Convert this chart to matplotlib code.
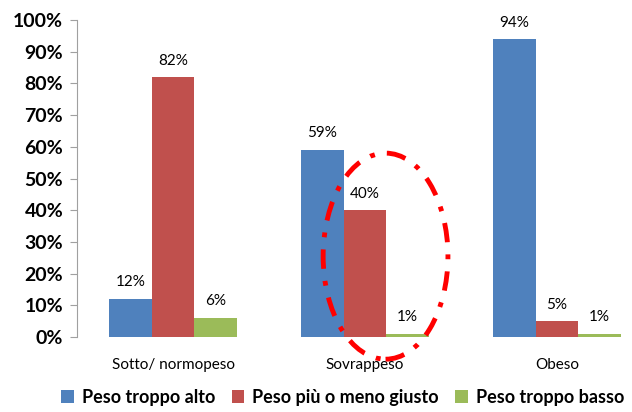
import matplotlib.pyplot as plt
import numpy as np
from matplotlib.patches import Ellipse

categorie = ["Sotto/ normopeso", "Sovrappeso", "Obeso"]
serie = ["Peso troppo alto", "Peso più o meno giusto", "Peso troppo basso"]
troppo_alto = [12, 59, 94]
giusto = [82, 40, 5]
troppo_basso = [6, 1, 1]
colori = ["#4F81BD", "#C0504D", "#9BBB59"]

plt.rcParams['font.family'] = ['Lato', 'DejaVu Sans']

fig = plt.figure(figsize=(6.32, 4.12), dpi=100)
# asse piu largo della figura: il grafico originale e' tagliato a destra
ax = fig.add_axes([77 / 632, 75 / 412, 576 / 632, 317 / 412])

x = np.arange(len(categorie))
w = 0.222
for i, (vals, col, nome) in enumerate(zip([troppo_alto, giusto, troppo_basso], colori, serie)):
    pos = x + (i - 1) * w
    ax.bar(pos, vals, width=w, color=col, label=nome)
    for p, v in zip(pos, vals):
        ax.text(p, v + 3, f"{v}%", ha='center', va='bottom', fontsize=11)

ax.set_xlim(-0.5, 2.5)
ax.set_ylim(0, 100)
ax.set_yticks(range(0, 101, 10))
ax.set_yticklabels([f"{t}%" for t in range(0, 101, 10)], fontsize=14, fontweight='bold')
ax.set_xticks(x)
ax.set_xticklabels(categorie, fontsize=11)
ax.tick_params(axis='x', length=0, pad=15)
ax.tick_params(axis='y', length=5, color='#A0A0A0', pad=5)
for s in ['top', 'right', 'bottom']:
    ax.spines[s].set_visible(False)
ax.spines['left'].set_color('#A0A0A0')

# ellisse rossa tratteggiata attorno a Sovrappeso
ell = Ellipse((x[1] + 0.107, 25.5), 0.65, 65, fill=False, edgecolor='#FF0000',
              linewidth=3.5, linestyle=(0, (4, 2.5, 1, 2.5)), clip_on=False)
ax.add_patch(ell)

fig.legend(loc='lower left', bbox_to_anchor=(45 / 632, -0.025), ncol=3, frameon=False,
           prop={'weight': 'bold', 'size': 13}, handlelength=0.7, handleheight=0.7,
           handletextpad=0.45, columnspacing=0.9)

fig.savefig("out.png", dpi=100)
